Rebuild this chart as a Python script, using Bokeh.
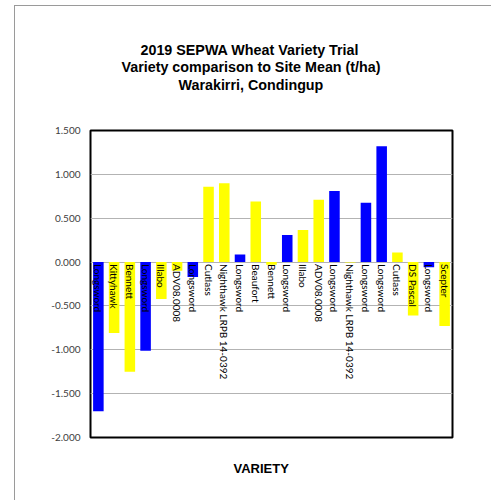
import math
from bokeh.plotting import figure
from bokeh.models import (Range1d, FixedTicker, NumeralTickFormatter, Title,
                          ColumnDataSource)
from bokeh.core.properties import value
from bokeh.embed import file_html
from bokeh.resources import INLINE

# ---- data ----
varieties = ["Longsword", "Kittyhawk", "Bennett", "Longsword", "Illabo",
             "ADV08.0008", "Longsword", "Cutlass", "Nighthawk LRPB 14-0392",
             "Longsword", "Beaufort", "Bennett", "Longsword", "Illabo",
             "ADV08.0008", "Longsword", "Nighthawk LRPB 14-0392", "Longsword",
             "Longsword", "Cutlass", "DS Pascal", "Longsword", "Scepter"]
diff_t_ha = [-1.70, -0.81, -1.25, -1.01, -0.42,
             -0.10, -0.17, 0.86, 0.90,
             0.085, 0.69, -0.03, 0.31, 0.365,
             0.71, 0.81, -0.005, 0.675,
             1.32, 0.11, -0.61, -0.06, -0.73]
y_ticks = [-2.0, -1.5, -1.0, -0.5, 0.0, 0.5, 1.0, 1.5]
title_lines = ["2019 SEPWA Wheat Variety Trial",
               "Variety comparison to Site Mean (t/ha)",
               "Warakirri, Condingup"]
x_title = "VARIETY"

BLUE = "#0000FF"
YELLOW = "#FFFF00"
colors = [BLUE if v == "Longsword" else YELLOW for v in varieties]
xs = list(range(len(varieties)))

src = ColumnDataSource(dict(x=xs, top=diff_t_ha, color=colors,
                            name=varieties, zero=[0.0] * len(xs)))

W, H = 491, 500
p = figure(width=W, height=H, output_backend="svg", toolbar_location=None,
           x_range=Range1d(-0.5, len(varieties) - 0.5),
           y_range=Range1d(-2.0, 1.5),
           min_border_left=90, min_border_right=39,
           min_border_top=130, min_border_bottom=63)

p.outline_line_color = "black"
p.outline_line_width = 2
p.background_fill_color = "white"
p.border_fill_alpha = 0
p.styles = {
    "background": "linear-gradient(#9a9a9a,#9a9a9a) 14px 5px / 1px 100% no-repeat, "
                  "linear-gradient(#9a9a9a,#9a9a9a) 14px 5px / 100% 1px no-repeat, white"
}

# grid
p.xgrid.visible = False
p.ygrid.ticker = FixedTicker(ticks=y_ticks)
p.ygrid.grid_line_color = "#b3b3b3"
p.ygrid.grid_line_width = 1

# axes
p.xaxis.visible = False
p.yaxis.ticker = FixedTicker(ticks=y_ticks)
p.yaxis.formatter = NumeralTickFormatter(format="0.000")
p.yaxis.axis_line_color = None
p.yaxis.major_tick_line_color = None
p.yaxis.minor_tick_line_color = None
p.yaxis.major_tick_out = 0
p.yaxis.major_label_standoff = 10
p.yaxis.major_label_text_font = "Lato"
p.yaxis.major_label_text_font_size = "10px"
p.yaxis.major_label_text_color = "#404040"

# bars
p.vbar(x="x", top="top", bottom="zero", width=0.67, fill_color="color",
       line_color=None, source=src)

# category labels along zero line, reading downwards
p.text(x="x", y="zero", text="name", source=src, angle=-math.pi / 2,
       text_align="left", text_baseline="middle", y_offset=2,
       text_font=value("Lato"), text_font_size="10px", text_color="black")

# titles (stacked above the frame; the first one added is nearest the frame)
title_font = "Liberation Sans"
title_size = "14.3px"
p.title.text = ""
p.add_layout(Title(text=" ", text_font=title_font, text_font_size=title_size,
                   standoff=19.5), "above")
offsets = [50, 31, 88]
standoffs = [-1, -1, 0]
for line, off, so in reversed(list(zip(title_lines, offsets, standoffs))):
    p.add_layout(Title(text=line, align="left", offset=off,
                       text_font=title_font, text_font_style="bold",
                       text_font_size=title_size, text_color="black",
                       standoff=so), "above")

# x-axis title below the frame
p.add_layout(Title(text=" ", text_font_size="14px", standoff=2.5), "below")
p.add_layout(Title(text=x_title, align="left", offset=143,
                   text_font="Liberation Sans", text_font_style="bold",
                   text_font_size="13px", text_color="black", standoff=0),
             "below")

open("out.html", "w").write(file_html(p, INLINE))
